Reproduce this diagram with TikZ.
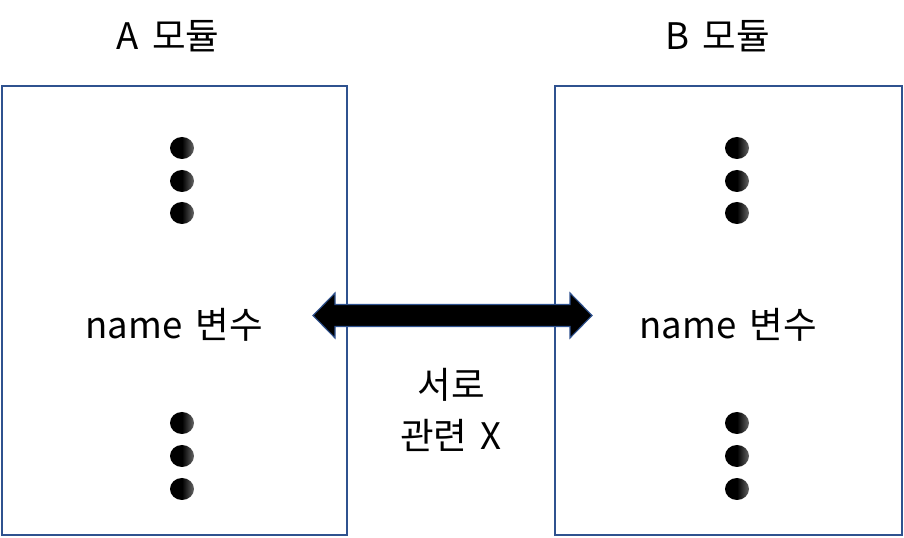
\documentclass[tikz,border=0pt]{standalone}
\usepackage{fontspec}
\setmainfont[WordSpace=1.6]{Noto Sans CJK KR}
\usetikzlibrary{calc,positioning}
\definecolor{boxblue}{RGB}{47,82,143}
\tikzset{
  modbox/.style={draw=boxblue, line width=1.3pt},
  dotball/.style={left color=black, right color=black!60, middle color=black},
  lbl/.style={font=\fontsize{26}{36}\selectfont, inner sep=0pt}
}

\begin{document}
\begin{tikzpicture}[x=0.025cm,y=-0.025cm]
      \useasboundingbox (0,0) rectangle (904,538);
      \draw[modbox] (2,86) rectangle (347,535);
      \draw[modbox] (555,86) rectangle (902,535);
      \node[lbl] (titleA) at (168,36) {A 모듈};
      \node[lbl] (titleB) at (718,36) {B 모듈};
      \node[lbl] (varA) at (174,325) {name 변수};
      \node[lbl] (varB) at (728,325) {name 변수};
      % dots above and below
      \foreach \x in {182,737} {
        \foreach \y in {148,181,213,423,456,489} {
          \shade[dotball] (\x,\y) ellipse (12 and 11);
        }
      }
      % both-way arrow
      \coordinate (tipL) at (313,315.5);
      \coordinate (tipR) at (592,315.5);
      \filldraw[fill=black, draw=boxblue, line width=0.8pt]
        (tipL) -- ($(tipL)+(22,-22.5)$) -- ($(tipL)+(22,-11)$)
        -- ($(tipR)+(-22,-11)$) -- ($(tipR)+(-22,-22.5)$) -- (tipR)
        -- ($(tipR)+(-22,22.5)$) -- ($(tipR)+(-22,11)$)
        -- ($(tipL)+(22,11)$) -- ($(tipL)+(22,22.5)$) -- cycle;
      \node[lbl, align=center] (note) at (451,410) {서로\\관련 X};
\end{tikzpicture}
\end{document}
